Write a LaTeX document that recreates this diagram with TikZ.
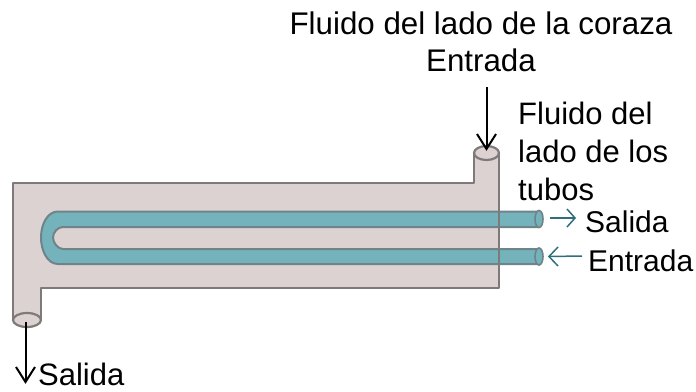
\documentclass[tikz,border=0pt]{standalone}
\usepackage{fontspec}
\setmainfont{Liberation Sans}
\usetikzlibrary{shapes.geometric}
\definecolor{shell}{HTML}{DDD2D2}
\definecolor{edgeg}{HTML}{7F7A7A}
\definecolor{tube}{HTML}{74B3BB}
\definecolor{tubeedge}{HTML}{6F8488}
\definecolor{teala}{HTML}{2F6E7C}
\tikzset{
 x=1pt,y=-1pt,
 shellline/.style={draw=edgeg,line width=2.6pt,fill=shell,line join=round},
 tubeline/.style={draw=tubeedge,line width=2pt,fill=tube,line join=round},
 label/.style={inner sep=0pt,font=\fontsize{30}{36}\selectfont},
 flow/.style={line width=2pt,black,line join=miter},
 flowt/.style={line width=1.5pt,teala,line join=miter},
 port/.style={ellipse,draw=edgeg,line width=2.2pt,fill=shell,inner sep=0pt,minimum width=#1,minimum height=14pt},
 tubeend/.style={ellipse,draw=tubeedge,line width=1.6pt,fill=tube,inner sep=0pt,minimum width=8pt,minimum height=17pt},
}
\begin{document}
\begin{tikzpicture}
\useasboundingbox (0,0) rectangle (696,391);
% shell
\draw[shellline] (13,183) -- (474,183) -- (474,153) -- (499,153) -- (499,288) -- (41,288) -- (41,320) -- (13,320) -- cycle;
\node[port=28pt] (outport) at (27,320) {};
\node[port=25pt] (inport) at (486.5,153) {};
% U tube
\draw[tubeline] (539,211.5) -- (58,211.5) .. controls (47,211.5) and (41,225) .. (41,237.5) .. controls (41,250) and (47,264) .. (58,264) -- (539,264)
 -- (539,249) -- (63,249) .. controls (58,249) and (53,243) .. (53,237.5) .. controls (53,232) and (58,227) .. (63,227) -- (539,227) -- cycle;
\node[tubeend] (tubeout) at (539,219) {};
\node[tubeend] (tubein) at (539,256.5) {};
\draw[edgeg,line width=1.5pt] (499,211) -- (499,227) (499,249) -- (499,264);
% labels
\node[label,align=center,font=\fontsize{31.3}{37}\selectfont] (shelllabel) at (481,42) {Fluido del lado de la coraza\\Entrada};
\node[label,align=left,anchor=north west,font=\fontsize{31}{38}\selectfont] (tubelabel) at (518,102) {Fluido del\\lado de los\\tubos};
\node[label,anchor=west] (salidat) at (585,222) {Salida};
\node[label,anchor=west] (entradat) at (588,261) {Entrada};
\node[label,anchor=west,font=\fontsize{31}{36}\selectfont] (salidas) at (38,374.5) {Salida};
% arrows
\coordinate (a1) at (486.5,87);
\coordinate (a1e) at (486.5,149);
\coordinate (a2) at (25.5,322);
\coordinate (a2e) at (25.5,382);
\coordinate (a3) at (550,218);
\coordinate (a3e) at (575,218);
\coordinate (a4) at (582,256);
\coordinate (a4e) at (549,256.5);
\draw[flow] (a1) -- (a1e);
\draw[flow] ([shift={(-9.5,-15)}]a1e) -- (a1e) -- ([shift={(9.5,-15)}]a1e);
\draw[flow] (a2) -- (a2e);
\draw[flow] ([shift={(-9.5,-15)}]a2e) -- (a2e) -- ([shift={(9.5,-15)}]a2e);
\draw[flowt] (a3) -- (a3e);
\draw[flowt] ([shift={(-8,-9)}]a3e) -- (a3e) -- ([shift={(-8,9)}]a3e);
\draw[flowt] (a4) -- (a4e);
\draw[flowt] ([shift={(9,-9.5)}]a4e) -- (a4e) -- ([shift={(9,9.5)}]a4e);
\end{tikzpicture}
\end{document}
